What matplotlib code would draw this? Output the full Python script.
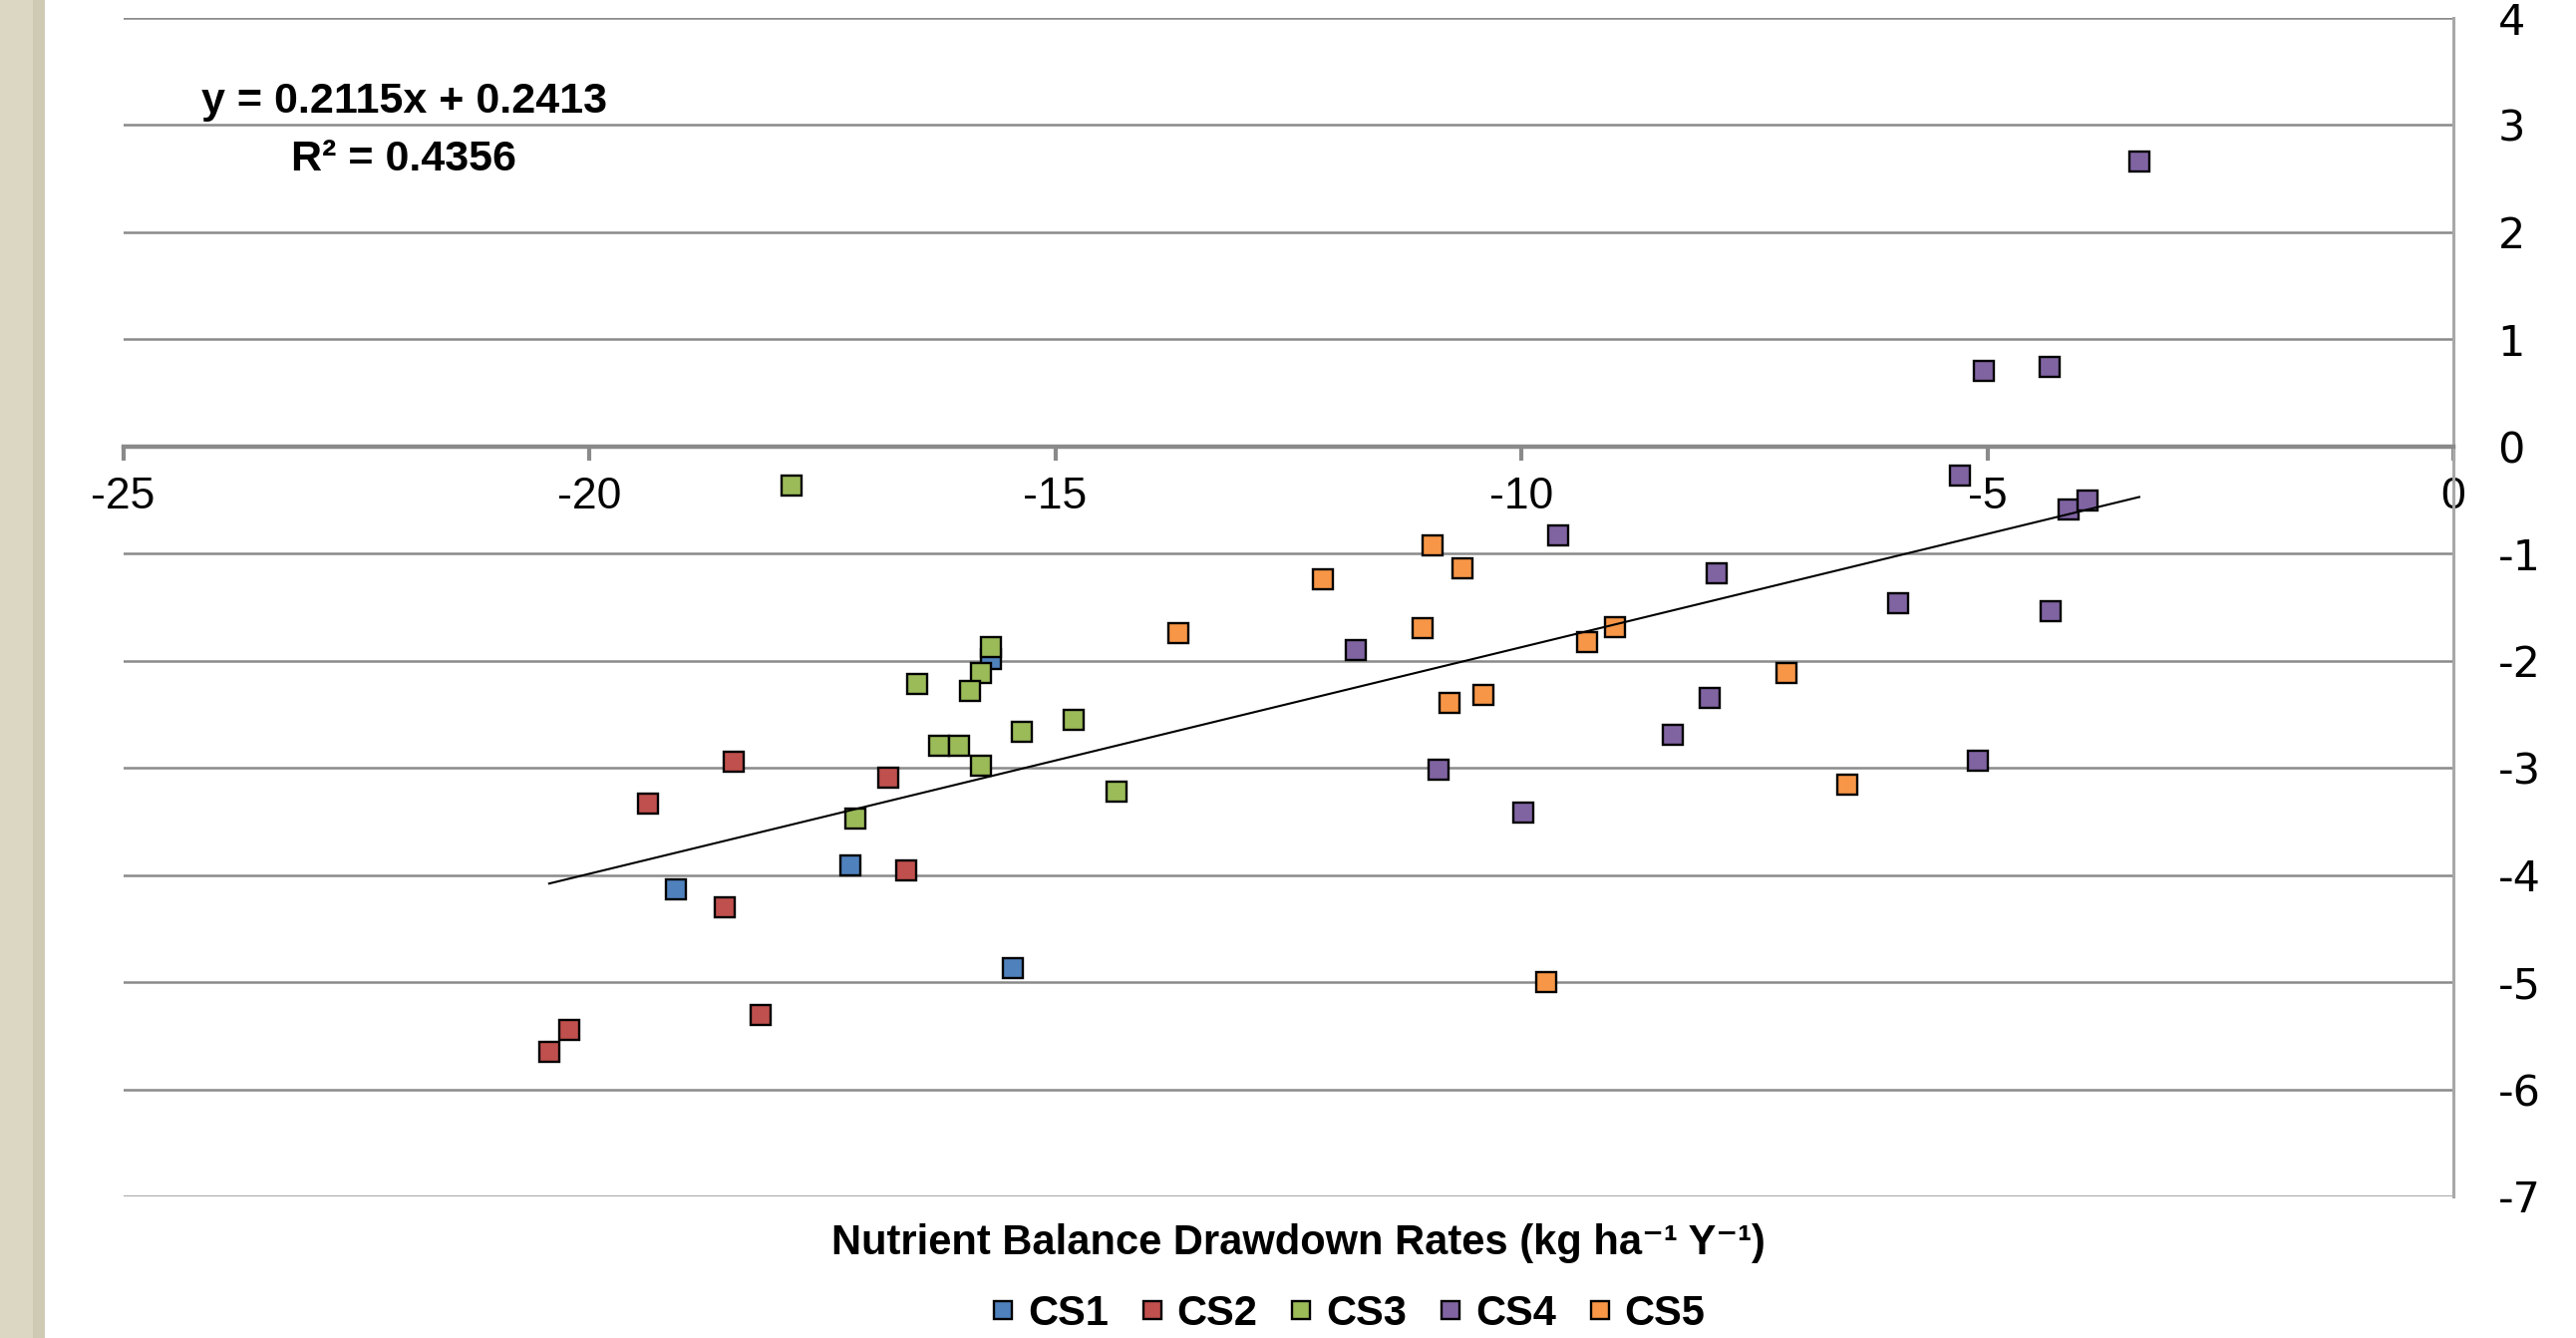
import numpy as np
import matplotlib
matplotlib.use("Agg")
import matplotlib.pyplot as plt
from matplotlib.patches import Rectangle

plt.rcParams['axes.unicode_minus'] = False

NARROW = ['Liberation Sans Narrow', 'Liberation Sans', 'DejaVu Sans']

# data
cs1_x = [-19.07, -17.20, -15.69, -15.45]
cs1_y = [-4.13, -3.91, -1.98, -4.87]

cs2_x = [-18.45, -19.37, -16.79, -16.60, -18.55, -18.16, -20.22, -20.43]
cs2_y = [-2.94, -3.33, -3.09, -3.96, -4.30, -5.31, -5.45, -5.65]

cs3_x = [-17.83, -15.69, -15.80, -16.48, -15.92, -15.36, -14.80, -16.25,
         -16.03, -15.80, -14.34, -17.15]
cs3_y = [-0.36, -1.875, -2.11, -2.22, -2.28, -2.66, -2.55, -2.79,
         -2.79, -2.98, -3.22, -3.47]

cs4_x = [-9.60, -7.90, -5.96, -11.78, -7.98, -8.38, -10.89, -9.98,
         -3.37, -5.04, -4.33, -5.29, -4.13, -3.93, -4.32, -5.10]
cs4_y = [-0.83, -1.18, -1.46, -1.90, -2.35, -2.69, -3.02, -3.42,
         2.66, 0.71, 0.74, -0.27, -0.59, -0.50, -1.54, -2.93]

cs5_x = [-13.68, -10.95, -10.63, -12.13, -11.06, -9.00, -9.29, -7.16,
         -10.41, -10.77, -6.50, -9.73]
cs5_y = [-1.74, -0.92, -1.14, -1.24, -1.70, -1.69, -1.83, -2.11,
         -2.32, -2.39, -3.16, -5.00]

series_names = ['CS1', 'CS2', 'CS3', 'CS4', 'CS5']
series_colors = ['#4F81BD', '#C0504D', '#9BBB59', '#8064A2', '#F79646']

slope = 0.2115
intercept = 0.2413
r_squared = 0.4356

x_ticks = [-25, -20, -15, -10, -5, 0]
y_ticks = [4, 3, 2, 1, 0, -1, -2, -3, -4, -5, -6, -7]

W, H = 2584, 1342
fig = plt.figure(figsize=(W / 100, H / 100), dpi=100)

# beige strip on the left edge
fig.patches.append(Rectangle((0, 0), 45 / W, 1, transform=fig.transFigure,
                             facecolor='#DCD7C2', edgecolor='none', zorder=0))
fig.patches.append(Rectangle((33 / W, 0), 12 / W, 1, transform=fig.transFigure,
                             facecolor='#CFCAB4', edgecolor='none', zorder=0))

ax = fig.add_axes([123.6 / W, 1 - 1200 / H, (2461 - 123.6) / W, (1200 - 18) / H])
ax.set_xlim(-25, 0)
ax.set_ylim(-7, 4)

for yv in y_ticks:
    if yv != 0:
        ax.axhline(yv, color='#8A8A8A', lw=1.8, zorder=1)

ax.spines['left'].set_visible(False)
ax.spines['top'].set_visible(False)
ax.spines['bottom'].set_position(('data', 0))
ax.spines['bottom'].set_color('#8A8A8A')
ax.spines['bottom'].set_linewidth(3.2)
ax.spines['right'].set_color('#A8A8A8')
ax.spines['right'].set_linewidth(2.2)

ax.set_xticks(x_ticks)
ax.set_xticklabels([str(v) for v in x_ticks], family=NARROW, fontsize=32)
ax.tick_params(axis='x', direction='out', length=10, width=3, color='#8A8A8A', pad=12)

ax.yaxis.tick_right()
ax.set_yticks(y_ticks)
ax.set_yticklabels([str(v) for v in y_ticks], family='DejaVu Sans', fontsize=31)
ax.tick_params(axis='y', length=0, pad=32)

data = [(cs1_x, cs1_y), (cs2_x, cs2_y), (cs3_x, cs3_y), (cs4_x, cs4_y), (cs5_x, cs5_y)]
handles = []
for (xs, ys), name, col in zip(data, series_names, series_colors):
    h, = ax.plot(xs, ys, 's', ms=15, mfc=col, mec='black', mew=1.7,
                 label=name, zorder=3, clip_on=False)
    handles.append(h)

# linear trend line over the data range
all_x = np.concatenate([np.array(d[0]) for d in data])
tx = np.array([all_x.min(), all_x.max()])
ax.plot(tx, slope * tx + intercept, color='black', lw=1.5, zorder=4)

ax.text(405 / W, 1 - 102 / H, f'y = {slope}x + {intercept}', transform=fig.transFigure,
        ha='center', va='center', fontsize=31, fontweight='bold', family=NARROW)
ax.text(405 / W, 1 - 160 / H, f'R² = {r_squared}', transform=fig.transFigure,
        ha='center', va='center', fontsize=31, fontweight='bold', family=NARROW)

fig.text(1302 / W, 1 - 1247 / H, 'Nutrient Balance Drawdown Rates (kg ha⁻¹ Y⁻¹)',
         ha='center', va='center', fontsize=30, fontweight='bold', family=NARROW)

fig.legend(handles=handles, labels=series_names, loc='center',
           bbox_to_anchor=(1352 / W, 1 - 1318 / H), ncol=5, frameon=False,
           markerscale=0.85, handlelength=0.6, handletextpad=0.3, columnspacing=0.75,
           prop={'family': NARROW, 'size': 30, 'weight': 'bold'})

fig.savefig('out.png', dpi=100)
